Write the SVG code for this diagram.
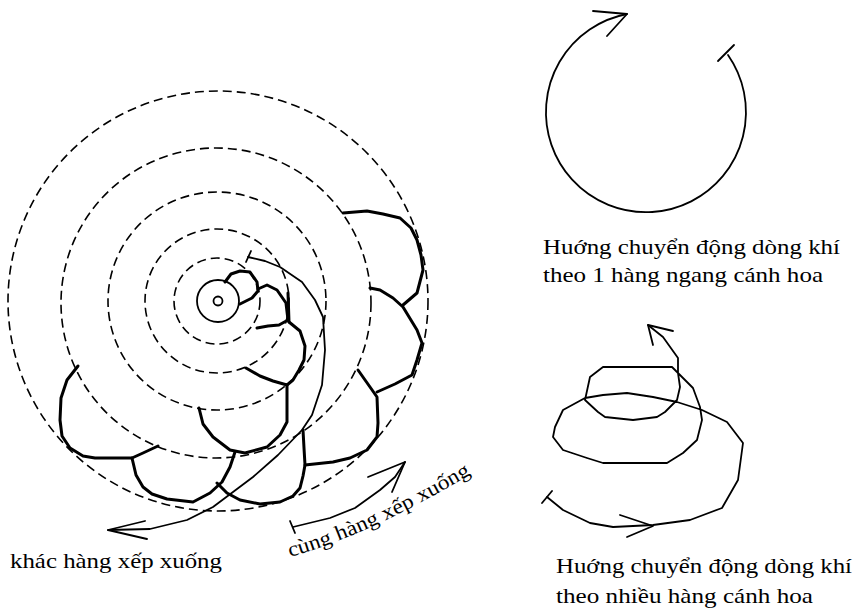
<svg xmlns="http://www.w3.org/2000/svg" width="856" height="612" viewBox="0 0 856 612">
  <style>
    .ring { fill: none; stroke: #000; stroke-width: 1.6; stroke-dasharray: 9 5; }
    .core { fill: none; stroke: #000; stroke-width: 1.8; }
    .petal { fill: none; stroke: #000; stroke-width: 3; stroke-linejoin: round; stroke-linecap: round; }
    .flow { fill: none; stroke: #000; stroke-width: 1.8; stroke-linejoin: round; stroke-linecap: round; }
    .label { font-family: "Liberation Serif", "Times New Roman", serif; font-size: 21px; fill: #000; }
  </style>
  <defs>
    <path id="samePath" d="M290,557 Q370,535 478,470"/>
  </defs>
  <rect width="856" height="612" fill="#fff"/>

  <!-- concentric guide rings of the rosette -->
  <g id="rings">
    <circle class="ring" cx="217" cy="301" r="43"/>
    <circle class="ring" cx="217" cy="301" r="72"/>
    <circle class="ring" cx="217" cy="301" r="109"/>
    <circle class="ring" cx="216" cy="303" r="155"/>
    <circle class="ring" cx="218" cy="301" r="210"/>
  </g>

  <!-- centre of the rosette -->
  <g id="center">
    <circle class="core" cx="218" cy="301" r="21"/>
    <circle class="core" cx="218" cy="301" r="4.5"/>
  </g>

  <!-- petals, laid in rows spiralling outward -->
  <g id="petals">
    <path class="petal" d="M225,282 L231,274 L240,271 L250,272 L257,282 L258,291 L252,298 L240,304"/>
    <path class="petal" d="M258,289 L267,285 L277,290 L286,303 L288,320 L279,325 L268,326 L257,328"/>
    <path class="petal" d="M288,293 L289,322"/>
    <path class="petal" d="M289,322 L300,331 L305,346 L304,360 L299,370 L293,380 L287,385 L273,381 L260,376 L246,368"/>
    <path class="petal" d="M199,408 L203,424 L213,437 L230,450 L245,453 L267,447 L280,435 L287,422 L287,385"/>
    <path class="petal" d="M78,366 L67,380 L61,398 L60,420 L62,436 L70,448 L83,456 L95,458 L132,458 L143,453 L158,446"/>
    <path class="petal" d="M132,458 L136,475 L143,487 L152,494 L167,499 L193,502 L210,493 L222,482 L230,467 L235,452"/>
    <path class="petal" d="M217,483 L227,493 L240,500 L260,504 L280,502 L293,496 L300,488 L303,476 L305,465 L304,448 L303,430"/>
    <path class="petal" d="M305,465 L333,462 L350,458 L367,450 L377,437 L378,423 L377,397 L370,387 L358,370"/>
    <path class="petal" d="M370,288 L380,290 L393,298 L403,307 L417,330 L422,343 L417,360 L412,375 L395,384 L377,392"/>
    <path class="petal" d="M343,213 L367,211 L383,214 L400,218 L411,228 L417,240 L421,255 L423,270 L417,293 L403,305"/>
  </g>

  <!-- flow arrows -->
  <g id="connectors">
    <!-- different row: spiral from the centre outward -->
    <path class="flow" d="M248,257 L265,261 L280,267 L302,282 L315,300 L323,317 L325,350 L322,385 L312,415 L302,430 L278,455 L253,477 L233,492 L213,507 L187,520 L150,529 L108,530"/>
    <path class="flow" d="M246,262 L251,251"/>
    <path class="flow" d="M145,521 L108,530 L147,539"/>
    <!-- same row -->
    <path class="flow" d="M293,527 L330,518 L355,508 L380,490 L395,477 L405,462"/>
    <path class="flow" d="M290,521 L295,533"/>
    <path class="flow" d="M368,477 L405,462 L392,492"/>
    <!-- single row: open circle -->
    <path class="flow" d="M728,55 A100,100 0 1 1 627,14"/>
    <path class="flow" d="M718,61 L734,45"/>
    <path class="flow" d="M593,11 L627,14 L607,36"/>
    <!-- several rows: spiral -->
    <path class="flow" d="M547,497 L563,510 L590,523 L613,527 L653,525 L690,520 L722,508 L738,480 L743,443 L727,422 L702,410 L677,402 L653,397 L627,393 L603,395 L585,398 L563,410 L555,427 L553,437 L563,450 L587,458 L603,463 L667,463 L683,453 L697,440 L702,420 L700,407 L693,388 L672,367 L603,367 L590,377 L585,400 L598,412 L605,417 L633,420 L657,417 L665,412 L677,400 L680,387 L678,373 L678,358 L663,337 L648,325"/>
    <path class="flow" d="M542,503 L552,491"/>
    <path class="flow" d="M620,515 L653,526 L627,537"/>
    <path class="flow" d="M673,331 L648,325 L653,345"/>
  </g>

  <!-- labels -->
  <g id="labels">
    <text class="label" x="10" y="568" textLength="212" lengthAdjust="spacingAndGlyphs">khác hàng xếp xuống</text>
    <text class="label"><textPath href="#samePath" textLength="200" lengthAdjust="spacingAndGlyphs">cùng hàng xếp xuống</textPath></text>
    <text class="label" x="543" y="254" textLength="297" lengthAdjust="spacingAndGlyphs">Huớng chuyển động dòng khí</text>
    <text class="label" x="543" y="282" textLength="280" lengthAdjust="spacingAndGlyphs">theo 1 hàng ngang cánh hoa</text>
    <text class="label" x="556" y="573" textLength="296" lengthAdjust="spacingAndGlyphs">Huớng chuyển động dòng khí</text>
    <text class="label" x="556" y="603" textLength="257" lengthAdjust="spacingAndGlyphs">theo nhiều hàng cánh hoa</text>
  </g>
</svg>
